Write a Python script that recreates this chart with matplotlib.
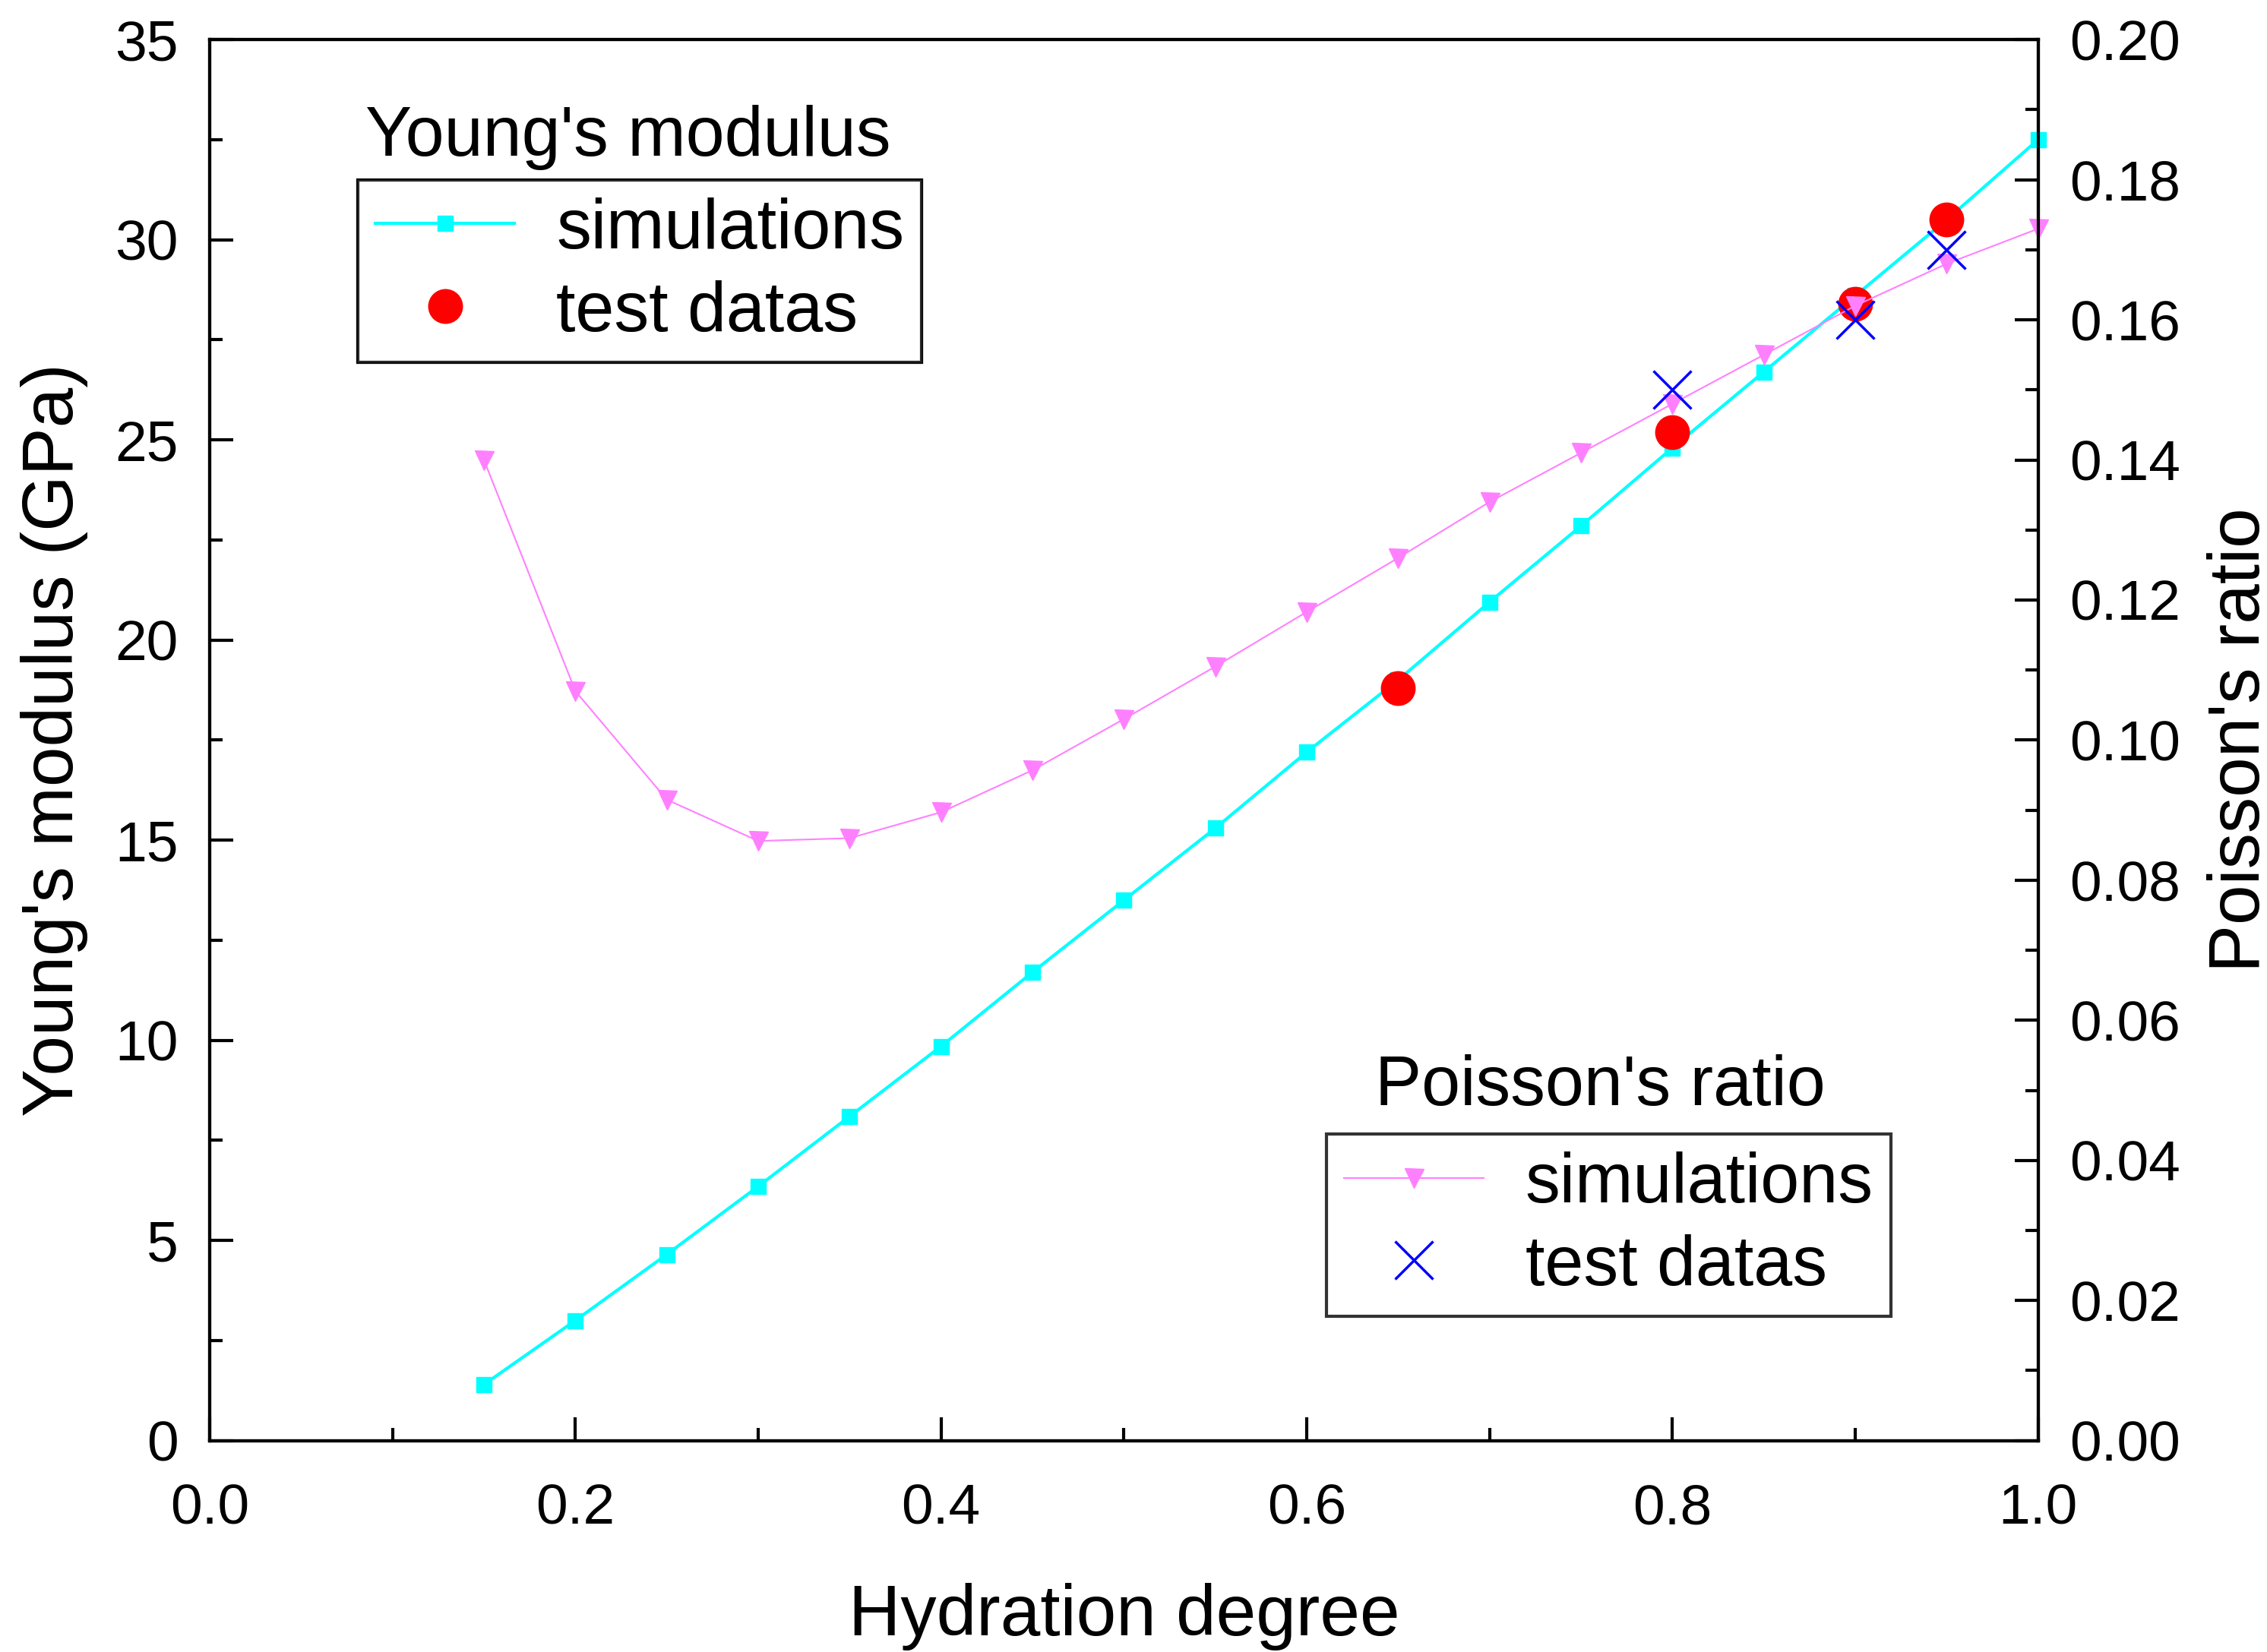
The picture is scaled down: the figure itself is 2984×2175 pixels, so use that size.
import numpy as np
import matplotlib.pyplot as plt
from matplotlib.ticker import MultipleLocator

plt.rcParams["font.family"] = "Liberation Sans"

# data
hydration = [0.15, 0.2, 0.25, 0.3, 0.35, 0.4, 0.45, 0.5, 0.55, 0.6,
             0.65, 0.7, 0.75, 0.8, 0.85, 0.9, 0.95, 1.0]
young_sim = [1.4, 3.0, 4.65, 6.35, 8.1, 9.85, 11.7, 13.5, 15.3, 17.2,
             19.0, 20.95, 22.85, 24.8, 26.7, 28.6, 30.5, 32.5]
poisson_sim = [0.140, 0.107, 0.0915, 0.0856, 0.086, 0.0897, 0.0957, 0.103,
               0.1105, 0.1183, 0.126, 0.134, 0.141, 0.148, 0.155, 0.162,
               0.168, 0.173]
young_test_x = [0.65, 0.8, 0.9, 0.95]
young_test = [18.8, 25.2, 28.4, 30.5]
poisson_test_x = [0.8, 0.9, 0.95]
poisson_test = [0.150, 0.160, 0.170]

fig = plt.figure(figsize=(29.84, 21.75), dpi=100)
ax = fig.add_axes([0.0925, 0.128, 0.8065, 0.848])
ax2 = ax.twinx()

l1, = ax.plot(hydration, young_sim, color="#00FFFF", lw=3, marker="s", ms=15,
              label="simulations", clip_on=False, zorder=3)
l2, = ax.plot(young_test_x, young_test, ls="none", marker="o", ms=32,
              color="#FF0000", label="test datas", zorder=4)
l3, = ax2.plot(hydration, poisson_sim, color="#FF80FF", lw=1.5, marker="v", ms=18,
               label="simulations", clip_on=False)
l4, = ax2.plot(poisson_test_x, poisson_test, ls="none", marker="x", ms=36, mew=2.5,
               color="#0000FF", label="test datas")

ax.set_xlim(0, 1.0)
ax.set_ylim(0, 35)
ax2.set_ylim(0, 0.2)
ax.xaxis.set_major_locator(MultipleLocator(0.2))
ax.xaxis.set_minor_locator(MultipleLocator(0.1))
ax.yaxis.set_major_locator(MultipleLocator(5))
ax.yaxis.set_minor_locator(MultipleLocator(2.5))
ax2.yaxis.set_major_locator(MultipleLocator(0.02))
ax2.yaxis.set_minor_locator(MultipleLocator(0.01))
ax.xaxis.set_major_formatter(plt.FuncFormatter(lambda v, p: f"{v:.1f}"))
ax2.yaxis.set_major_formatter(plt.FuncFormatter(lambda v, p: f"{v:.2f}"))

for a in (ax, ax2):
    a.tick_params(which="both", direction="in", width=3, labelsize=54, pad=30)
    a.tick_params(which="major", length=22)
    a.tick_params(which="minor", length=12)
    for s in a.spines.values():
        s.set_linewidth(3)
ax.tick_params(top=False)
ax.tick_params(axis="x", pad=40)

ax.set_xlabel("Hydration degree", fontsize=68, labelpad=45)
ax.set_ylabel("Young's modulus (GPa)", fontsize=68, labelpad=25)
ax2.set_ylabel("Poisson's ratio", fontsize=68, labelpad=25)

leg1 = ax.legend(handles=[l1, l2], loc="upper left", bbox_to_anchor=(0.081, 0.900),
                 fontsize=66, frameon=True, fancybox=False, edgecolor="black",
                 handlelength=2.0, borderpad=0.25, labelspacing=0.25,
                 handletextpad=0.6, borderaxespad=0)
leg1.get_frame().set_linewidth(3)
ax.add_artist(leg1)
leg2 = ax2.legend(handles=[l3, l4], loc="upper left", bbox_to_anchor=(0.611, 0.219),
                  fontsize=66, frameon=True, fancybox=False, edgecolor="black",
                  handlelength=2.0, borderpad=0.25, labelspacing=0.25,
                  handletextpad=0.6, borderaxespad=0)
leg2.get_frame().set_linewidth(3)

fig.text(0.277, 0.917, "Young's modulus", fontsize=66, ha="center", va="center")
fig.text(0.706, 0.342, "Poisson's ratio", fontsize=66, ha="center", va="center")

fig.savefig("out.png")
